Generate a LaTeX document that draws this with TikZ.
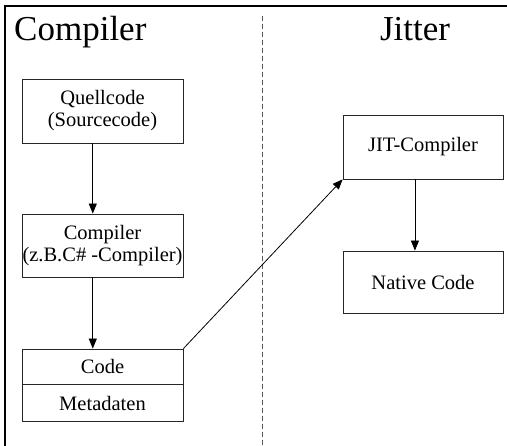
\documentclass[tikz,border=0pt]{standalone}
\usepackage{fontspec}
\setmainfont{Liberation Serif}
\usetikzlibrary{arrows.meta,calc}
\begin{document}
\begin{tikzpicture}[x=1pt,y=-1pt,
  blk/.style={draw=black!85, line width=0.8pt, inner sep=0pt, align=center,
    font=\fontsize{20.5}{22}\selectfont},
  flow/.style={-{Triangle[length=10pt,width=8pt]}, line width=0.8pt},
  title/.style={inner sep=0pt, anchor=base, font=\fontsize{35}{40}\selectfont}]
  \useasboundingbox (0,0) rectangle (507,446);
  % frame edges
  \draw[line width=2pt] (5,446) -- (5,6) -- (507,6);
  % separator between the two stages
  \draw[black!65, line width=1pt, dash pattern=on 5pt off 3pt] (262.7,16) -- (262.7,446);
  % headings
  \node[title, anchor=base west] (tc) at (14,41) {Compiler};
  \node[title] (tj) at (415,41) {Jitter};
  % compiler side
  \node[blk, minimum width=161pt, minimum height=64pt] (src) at (102.5,111) {Quellcode\\(Sourcecode)};
  \node[blk, minimum width=161pt, minimum height=63pt] (comp) at (102.5,245.5) {Compiler\\(z.B.C\# -Compiler)};
  \node[blk, minimum width=161pt, minimum height=35pt] (code) at (102.5,366.5) {Code};
  \node[blk, minimum width=161pt, minimum height=37pt, anchor=north] (meta) at (code.south) {Metadaten};
  % jitter side
  \node[blk, minimum width=160pt, minimum height=64pt] (jit) at (423,147) {JIT-Compiler};
  \node[blk, minimum width=160pt, minimum height=62pt] (nat) at (423,282) {Native Code};
  % connectors
  \draw[flow] ($(src.south west)!0.44!(src.south east)$) -- ($(comp.north west)!0.44!(comp.north east)$);
  \draw[flow] ($(comp.south west)!0.44!(comp.south east)$) -- ($(code.north west)!0.44!(code.north east)$);
  \draw[flow] (code.north east) -- (jit.south west);
  \draw[flow] ($(jit.south west)!0.45!(jit.south east)$) -- ($(nat.north west)!0.45!(nat.north east)$);
\end{tikzpicture}
\end{document}
